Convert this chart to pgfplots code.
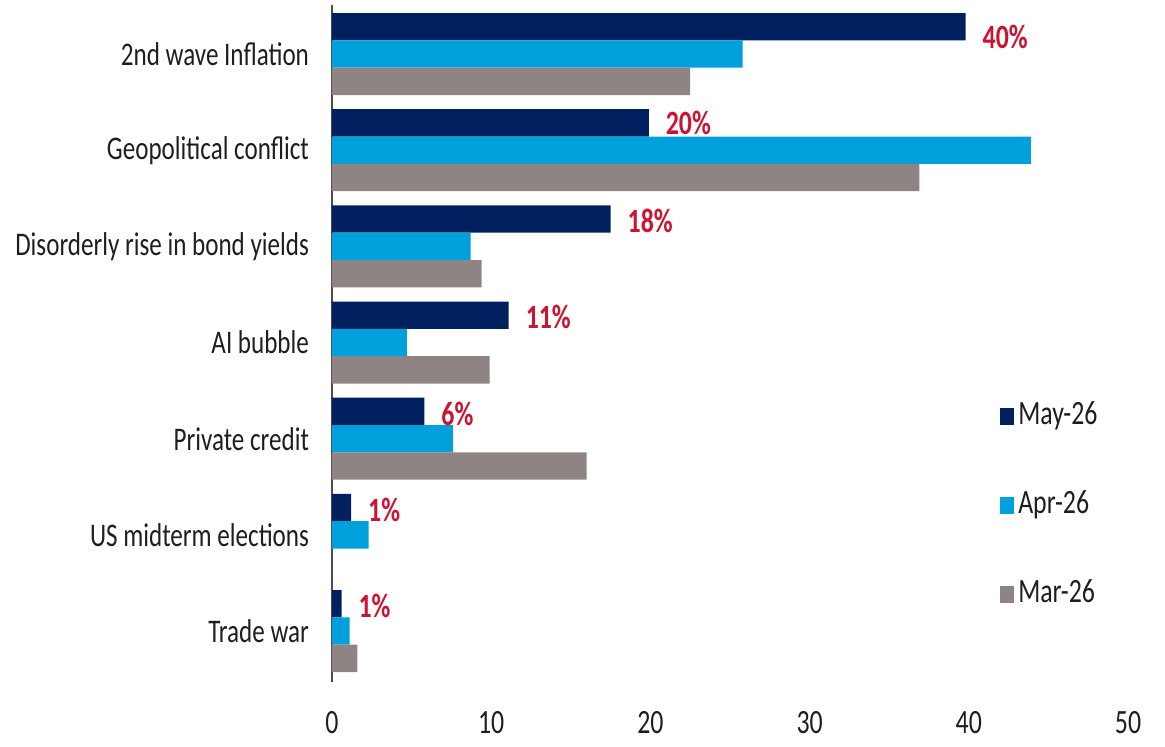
\documentclass[border=0pt]{standalone}
\usepackage{fontspec}
\setmainfont{Carlito}[FakeStretch=0.76]
\usepackage{pgfplots}
\usepackage{pgfplotstable}
\pgfplotsset{compat=1.18}
\definecolor{cMay}{RGB}{0,32,96}
\definecolor{cApr}{RGB}{0,160,220}
\definecolor{cMar}{RGB}{142,132,132}
\definecolor{cRed}{RGB}{204,20,50}
\definecolor{cTxt}{RGB}{30,30,30}
\pgfplotstableread{
y May Apr Mar lbl dy
6 39.8 25.8 22.5 40 8.4
5 19.9 43.9 36.9 20 13.4
4 17.5 8.7 9.4 18 12.6
3 11.1 4.7 9.9 11 12.6
2 5.8 7.6 16.0 6 12.6
1 1.2 2.3 nan 1 12.6
0 0.6 1.1 1.6 1 12.6
}\data
\begin{document}
\begin{tikzpicture}
\begin{axis}[
  at={(0,0)}, anchor=south west,
  scale only axis, width=398pt, height=338.5pt,
  xbar, bar width=0.284,
  xmin=0, xmax=50, ymin=-0.53, ymax=6.51,
  axis line style={draw=none},
  xtick={0,10,...,50}, ytick={0,...,6},
  yticklabels={Trade war, US midterm elections, Private credit, AI bubble, Disorderly rise in bond yields, Geopolitical conflict, 2nd wave Inflation},
  major tick length=0pt,
  tick style={draw=none},
  /pgf/number format/assume math mode=true,
  yticklabel style={font=\fontsize{16.5}{18}\selectfont, text=cTxt, xshift=-8pt},
  xticklabel style={font=\fontsize{17}{18}\selectfont, text=cTxt, yshift=-11.4pt},
  extra x ticks={0}, extra x tick labels={},
  extra x tick style={grid=major, major grid style={draw=black!70, line width=1pt}},
  legend style={at={(rel axis cs:0.839,0.420)}, anchor=north west, draw=none, fill=none,
    font=\fontsize{17}{18}\selectfont, text=cTxt, row sep=26.5pt, inner sep=0pt,
    nodes={inner sep=2pt, text height=11pt, text depth=3pt}},
  legend cell align=left,
  legend image code/.code={\fill[#1] (0pt,-4.25pt) rectangle (7pt,4.25pt);},
]
\addplot[draw=none, fill=cMay, bar shift=0.284,
  nodes near coords={\pgfplotspointmeta\%}, point meta=explicit symbolic,
  visualization depends on={\thisrow{dy} \as \dy},
  every node near coord/.style={anchor=west, xshift=5pt, yshift=\dy pt, text=cRed, font=\bfseries\fontsize{17}{18}\selectfont}]
  table[x=May, y=y, meta=lbl] {\data};
\addlegendentry{May-26}
\addplot[draw=none, fill=cApr, bar shift=0] table[x=Apr, y=y] {\data};
\addlegendentry{Apr-26}
\addplot[draw=none, fill=cMar, bar shift=-0.284] table[x=Mar, y=y] {\data};
\addlegendentry{Mar-26}
\end{axis}
\pgfresetboundingbox
\path[use as bounding box] (-166pt,-32pt) rectangle (416.5pt,341pt);
\end{tikzpicture}
\end{document}
